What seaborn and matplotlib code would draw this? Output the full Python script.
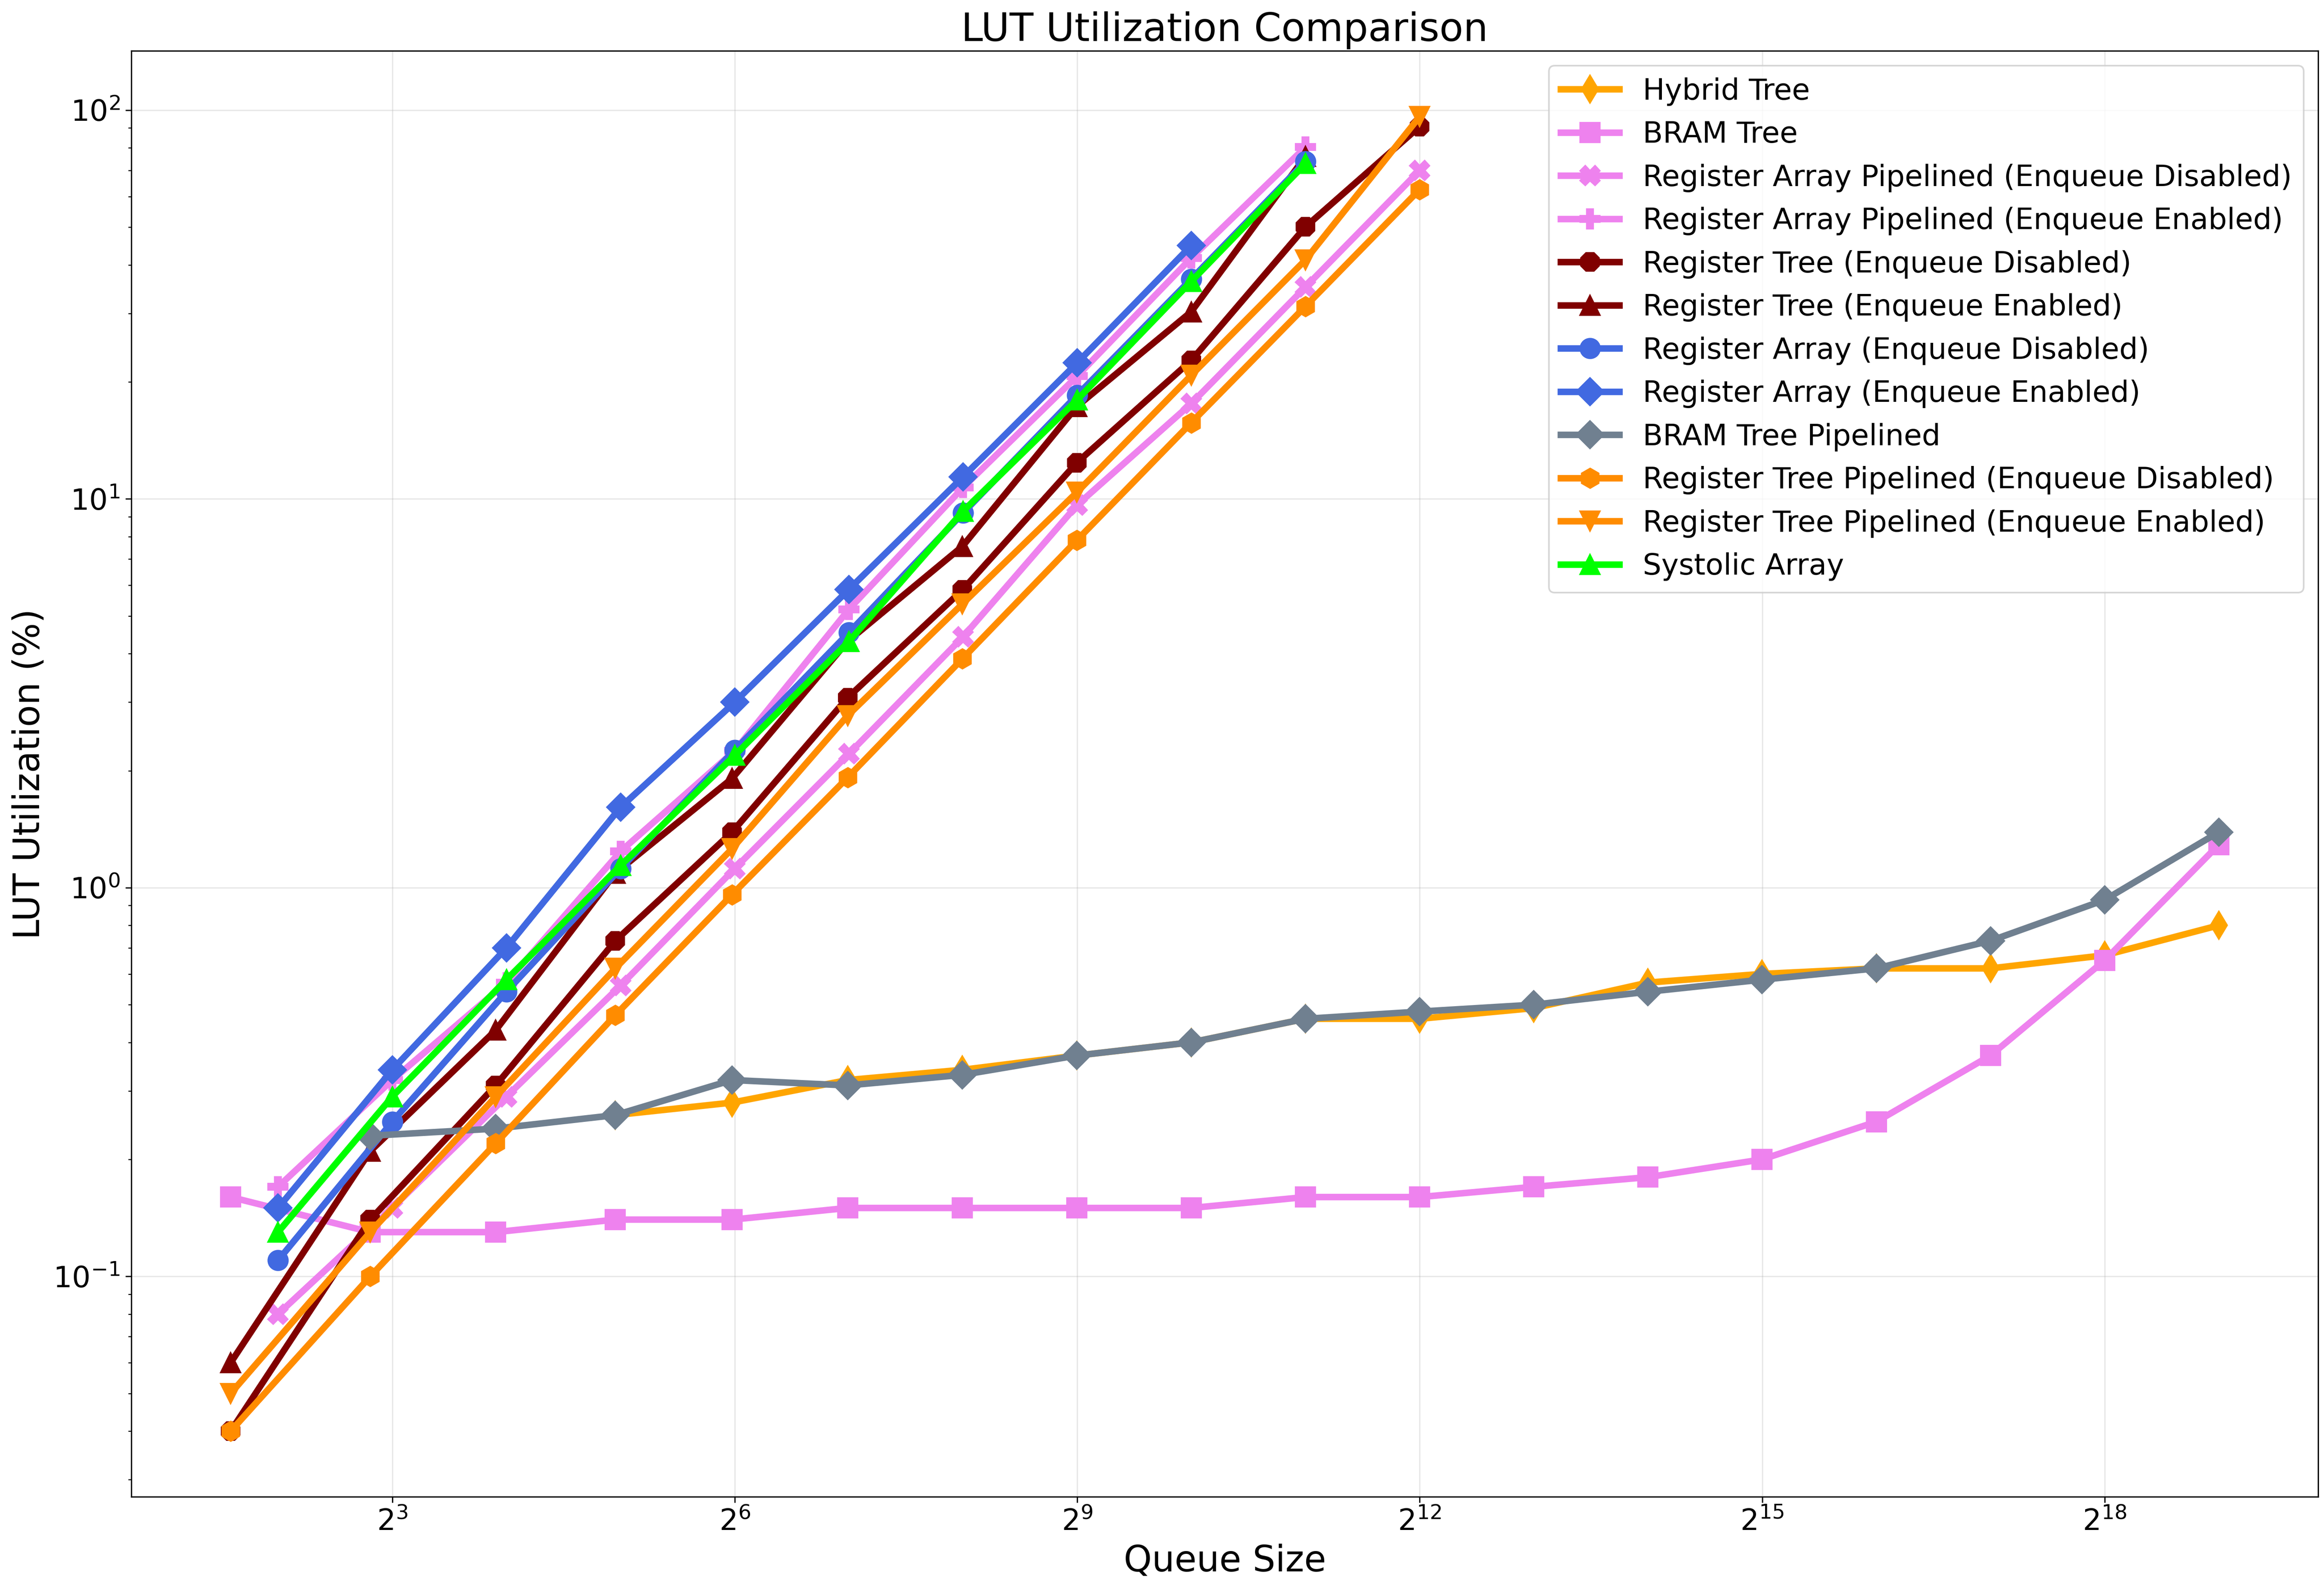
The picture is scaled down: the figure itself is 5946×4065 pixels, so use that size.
import matplotlib
matplotlib.use("Agg")
import matplotlib.pyplot as plt
import seaborn as sns

# queue sizes: tree designs use 2^n - 1, array designs use 2^n
tree_sizes = [3, 7, 15, 31, 63, 127, 255, 511, 1023, 2047, 4095, 8191,
              16383, 32767, 65535, 131071, 262143, 524287]
array_sizes = [4, 8, 16, 32, 64, 128, 256, 512, 1024, 2048, 4096]

hybrid_tree = [0.26, 0.28, 0.32, 0.34, 0.37, 0.40, 0.46, 0.46, 0.49, 0.57,
               0.60, 0.62, 0.62, 0.67, 0.80]
bram_tree = [0.16, 0.13, 0.13, 0.14, 0.14, 0.15, 0.15, 0.15, 0.15, 0.16,
             0.16, 0.17, 0.18, 0.20, 0.25, 0.37, 0.65, 1.29]
reg_array_pipe_dis = [0.08, 0.15, 0.29, 0.56, 1.12, 2.21, 4.42, 9.65, 17.6, 35.1, 70.0]
reg_array_pipe_en = [0.17, 0.32, 0.57, 1.24, 2.25, 5.2, 10.7, 20.7, 41.7, 80.4]
reg_tree_dis = [0.04, 0.14, 0.31, 0.73, 1.39, 3.08, 5.83, 12.4, 22.7, 50.1, 90.8]
reg_tree_en = [0.06, 0.21, 0.43, 1.09, 1.91, 4.3, 7.55, 17.3, 30.3, 76.0]
reg_array_dis = [0.11, 0.25, 0.54, 1.12, 2.26, 4.53, 9.2, 18.5, 36.8, 73.8]
reg_array_en = [0.15, 0.34, 0.70, 1.61, 3.0, 5.85, 11.4, 22.4, 44.9]
bram_tree_pipe = [0.23, 0.24, 0.26, 0.32, 0.31, 0.33, 0.37, 0.40, 0.46, 0.48,
                  0.50, 0.54, 0.58, 0.62, 0.73, 0.93, 1.39]
reg_tree_pipe_dis = [0.04, 0.10, 0.22, 0.47, 0.96, 1.92, 3.88, 7.83, 15.7, 31.3, 62.5]
reg_tree_pipe_en = [0.05, 0.13, 0.29, 0.62, 1.26, 2.77, 5.37, 10.4, 20.8, 41.2, 96.3]
systolic_array = [0.13, 0.29, 0.58, 1.14, 2.19, 4.3, 9.3, 18.0, 36.3, 72.9]

# (label, x values, y values, color, marker)
series = [
    ("Hybrid Tree", tree_sizes[3:], hybrid_tree, "orange", "d"),
    ("BRAM Tree", tree_sizes, bram_tree, "violet", "s"),
    ("Register Array Pipelined (Enqueue Disabled)", array_sizes, reg_array_pipe_dis, "violet", "X"),
    ("Register Array Pipelined (Enqueue Enabled)", array_sizes[:10], reg_array_pipe_en, "violet", "P"),
    ("Register Tree (Enqueue Disabled)", tree_sizes[:11], reg_tree_dis, "maroon", "8"),
    ("Register Tree (Enqueue Enabled)", tree_sizes[:10], reg_tree_en, "maroon", "^"),
    ("Register Array (Enqueue Disabled)", array_sizes[:10], reg_array_dis, "royalblue", "o"),
    ("Register Array (Enqueue Enabled)", array_sizes[:9], reg_array_en, "royalblue", "D"),
    ("BRAM Tree Pipelined", tree_sizes[1:], bram_tree_pipe, "slategray", "D"),
    ("Register Tree Pipelined (Enqueue Disabled)", tree_sizes[:11], reg_tree_pipe_dis, "darkorange", "h"),
    ("Register Tree Pipelined (Enqueue Enabled)", tree_sizes[:11], reg_tree_pipe_en, "darkorange", "v"),
    ("Systolic Array", array_sizes[:10], systolic_array, "lime", "^"),
]

fig, ax = plt.subplots(figsize=(5946 / 300, 4065 / 300))
plt.subplots_adjust(left=0.0565, right=0.9975, top=0.968, bottom=0.058)

for label, xs, ys, color, marker in series:
    sns.lineplot(x=xs, y=ys, ax=ax, label=label, color=color, marker=marker,
                 markersize=12, linewidth=4, markeredgecolor=color,
                 markeredgewidth=1)

ax.set_xscale("log", base=2)
ax.set_yscale("log")
ax.grid(True, alpha=0.3)
ax.tick_params(axis="both", labelsize=18)

ax.set_title("LUT Utilization Comparison", fontsize=24)
ax.set_xlabel("Queue Size", fontsize=22)
ax.set_ylabel("LUT Utilization (%)", fontsize=22)
ax.legend(fontsize=18, loc="upper right")

plt.savefig("out.png", dpi=300)
